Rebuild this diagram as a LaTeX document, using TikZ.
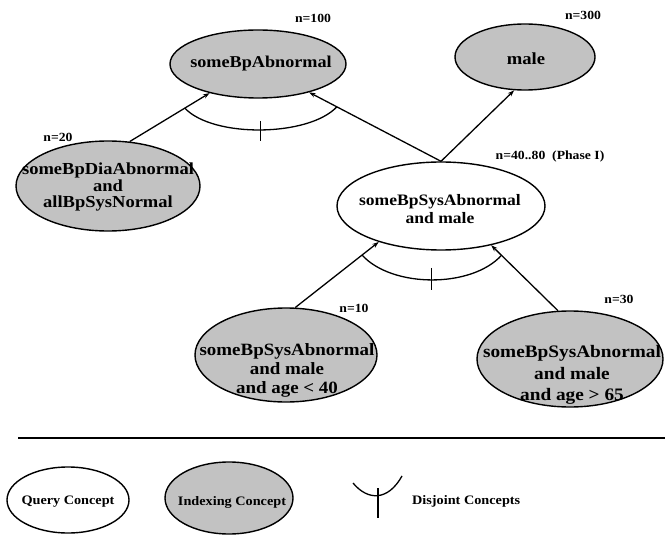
\documentclass[tikz,border=0pt]{standalone}
\usepackage{fontspec}
\setmainfont{Liberation Serif}[FakeStretch=1.1]
\usetikzlibrary{shapes.geometric,arrows.meta}

\newcommand{\bsize}[2]{\fontsize{#1}{#2}\selectfont\bfseries}

\begin{document}
\begin{tikzpicture}[x=1bp,y=-1bp,
  concept/.style={ellipse, draw, line width=1.4bp, inner sep=0pt},
  indexing/.style={concept, fill=black!24},
  queryc/.style={concept, fill=white},
  nodetext/.style={align=center, inner sep=0pt, font=\bsize{16}{18}},
  legendtext/.style={align=center, inner sep=0pt, font=\bsize{13}{15}},
  sizelabel/.style={inner sep=0pt, font=\bsize{12.5}{14}},
  subsumes/.style={line width=1.3bp, -{Stealth[length=6.5bp,width=4.5bp]}},
  disjoint/.style={line width=1.3bp},
]
\useasboundingbox (0,0) rectangle (665,535);

% concepts
\node[indexing, minimum width=176bp, minimum height=68bp] (bpab) at (258,64) {};
\node[nodetext, font=\bsize{16.6}{18}] (bpab-t) at (261,64) {someBpAbnormal};
\node[indexing, minimum width=140bp, minimum height=66bp] (male) at (525,57) {};
\node[nodetext, font=\bsize{17}{18}] (male-t) at (526,59) {male};
\node[indexing, minimum width=184bp, minimum height=90bp] (dia) at (108,186) {};
\node[nodetext, font=\bsize{16.9}{16.5}] (dia-t) at (108,187) {someBpDiaAbnormal\\and\\allBpSysNormal};
\node[queryc, minimum width=208bp, minimum height=88bp] (q) at (441,206) {};
\node[nodetext] (q-t) at (440,209) {someBpSysAbnormal\\and male};
\node[indexing, minimum width=182bp, minimum height=94bp] (lc) at (286,355) {};
\node[nodetext, font=\bsize{17.3}{19}] (lc-t) at (287,370) {someBpSysAbnormal\\and male\\and age < 40};
\node[indexing, minimum width=186bp, minimum height=96bp] (rc) at (570,359) {};
\node[nodetext, font=\bsize{17.6}{21.5}] (rc-t) at (572,375) {someBpSysAbnormal\\and male\\and age > 65};

% population sizes
\node[sizelabel] (n-bpab) at (313,18) {n=100};
\node[sizelabel] (n-male) at (583,15) {n=300};
\node[sizelabel] (n-dia) at (58,137) {n=20};
\node[sizelabel] (n-q) at (550,157) {n=40..80\ \ (Phase I)};
\node[sizelabel] (n-lc) at (354,308) {n=10};
\node[sizelabel] (n-rc) at (619,299) {n=30};

% subsumption links
\draw[subsumes] (dia.64) -- coordinate[pos=0.69] (j1a) (bpab.211);
\draw[subsumes] (q.north) -- coordinate[pos=0.79] (j1b) (bpab.331);
\draw[subsumes] (q.north) -- (male.252);
\draw[subsumes] (lc.79) -- coordinate[pos=0.80] (j2a) (q.210);
\draw[subsumes] (rc.104) -- coordinate[pos=0.846] (j2b) (q.322);

% disjointness arcs
\draw[disjoint] (j1a) .. controls +(28,30) and +(-28,30) .. (j1b) coordinate[pos=0.5] (t1);
\draw[disjoint] ([yshift=9bp]t1) -- ([yshift=-11bp]t1);
\draw[disjoint] (j2a) .. controls +(30,33) and +(-30,33) .. (j2b) coordinate[pos=0.5] (t2);
\draw[disjoint] ([yshift=12bp]t2) -- ([yshift=-10bp]t2);

% legend
\draw[line width=1.4bp] (18,438) -- (665,438);
\node[queryc, minimum width=122bp, minimum height=66bp] (lq) at (68,500) {};
\node[legendtext] (lq-t) at (68,502) {Query Concept};
\node[indexing, minimum width=128bp, minimum height=72bp] (li) at (229,498) {};
\node[legendtext] (li-t) at (232,502) {Indexing Concept};
\coordinate (ld1) at (353,483);
\coordinate (ld2) at (402,476);
\draw[disjoint] (ld1) .. controls (368,501) and (388,501) .. (ld2);
\coordinate (lt) at (378,496);
\draw[disjoint] ([yshift=8bp]lt) -- ([yshift=-22bp]lt);
\node[legendtext, anchor=west] (ld-t) at (412,501) {Disjoint Concepts};
\end{tikzpicture}
\end{document}
